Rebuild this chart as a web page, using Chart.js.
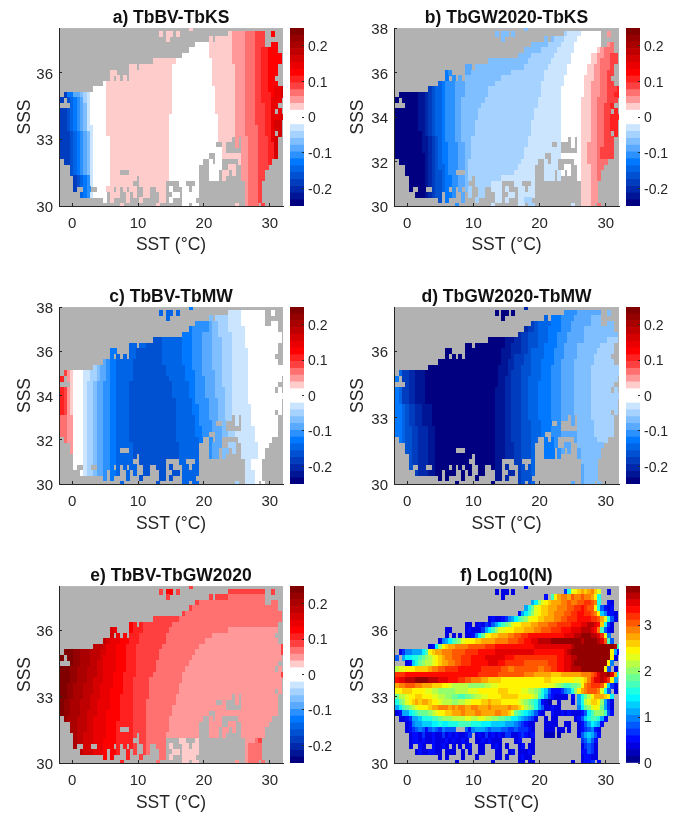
<!DOCTYPE html>
<html><head><meta charset="utf-8">
<style>html,body{margin:0;padding:0;background:#fff}canvas{position:absolute}</style>
<script src="https://cdn.jsdelivr.net/npm/chart.js@4"></script></head><body>
<script>
// Log10(N) per SSS row (38 down to 30, 0.25 step); "col:letters", col = (SST+2)*2, letter a..z = level
const logNRows = [
"40:d",
"31:c 33:cc 36:c 52:ekpqrsrstrp 65:c",
"33:c 46:d 48:lqsttsuttuttsqk",
"42:hjnpqrsssttuttuuvvutk 65:dc",
"40:hkmpqrrssstttuuvvwvuuqkf 64:dcd",
"38:dhjlnpqrrsstttuuvvwwvvutqig 65:ddc",
"29:cdccdeghjlmnpqqrrsssttuuvvvwwwwvvuspkfc",
"22:cc 25:cdce 29:dfhjlmnpqqrrrsstttuuuvvvvwwwxxyyxwrk 65:ec",
"16:cc 22:cdcc 26:c 27:ehjlnppqqqrrrsssttuuuvvvwwwxxxyyyxwtlfdc",
"16:c 18:c 20:c 22:cc 24:dgj 27:mpqrrsssttuuvvwwwwwwwwwwwxxxyyzzzyyxvpg",
"14:cghjlmnpqqqrrssssttttuuuvvwwxxyyyyzzzzzzzzzyzzzzyxulf",
"11:cdjnqrssttttuuuuuvvvwwwwwwwwwwwwxxxxxxxxxxxyzzzzzzzzzzzzyle",
"2:cegghhhjlqrsstttuuuuvvvvwwwwwxxxxxxxxxxxxwwwwwwwwwxyzzzzzzzzzzzzqhd",
"1:f 3:hjjkklmnopqrsttuuuvvvwwwwxxxxxxwwwvvvvvvvvvvvvvwwxxyyzzzzzzzzzzqg 67:c",
"4:cdikmnoopqrssttuuvvvwwwwwxxxwwvvvvvvuuuuuuuvvvwwxxyzzzzzzzzzzqg",
"1:oppqqqrrrrsttuuvvvvwwwwwwwvvvvvvuuttuuuuuuuttuuvvwwxxyyyzzzzzzzqf 67:c",
"1:vvvwwwwwwwwwwwwwwwwwwwwwwvvvvvvuuuuuuuutttsssssrrrsssssstttuvxyyzxsk",
"1:wxxyyyzzzzyyyxxxwwwvvuutttssrrrrqqqqqqqqqqqqqrrqqqqqqqppqrtvxxyxvqh",
"1:sttuuuttsssrrrqqpooooonnnnnooppqqqqqqqqqqqqqqqpponmllmmnqtuvvvuqi 66:ec",
"1:qqrrrqqqqppoonnnnnoooopppqqqqqqrrrqqqqppoonmkifdddeghknqstuuutpkf 67:c",
"1:moopqqrrqqqppoonnmmllmmnooppqqqqrrrrrqqqqpolkhedcccc 54:d 56:hkmoqsssrqj",
"1:kmnpqrsrssrqqpooonnooppqqqrrsrrrqqqqqponmlkhdcb 50:c 54:c 56:hkoprrqnhec",
"1:hjlmnopqqqrsstttststtssttssstssssstssrqonmkhfd 46:ccdcc 56:gjmnpqpmhec",
"1:cdhhjklmmmnopqqrrssstsssttssssttssrpmlkjihfdc 48:dccdcdcc 56:cdfjlnnnlfd",
"2:ccdehhikkkllmnnnooooppooppoonnmmlljjihgfec 46:c 48:cc 55:c 56:dfikllkhd",
"4:cdghhiiijjkjjkkkllllkkkjjjiiiihhhgfedcc 46:cccc 52:cc 56:cd 58:fhjihd",
"4:cdefgfdfgfegfff 22:fdghhhgfgggffeefeeedc 46:ccc 50:cc 53:c 56:c 57:defgdc",
"5:cddceccdccecdcdccde 25:cdcecdcdceeccdedcd 46:bbb 50:b 56:cfhihfd",
"5:cddcdccdcccdcdccdc 25:ccdcdccc 37:cd 42:c 57:efhfd",
"5:c 8:dc 12:dccdc 18:c 20:c 22:cd 26:cc 30:cdc 34:c 38:cd 41:cc 57:cefec",
"7:cdccddcc 16:ccc 21:c 23:c 26:cc 31:cc 35:cd 38:cc 40:cdc 57:ddfec",
"14:c 16:c 21:c 25:c 31:cc 34:c 38:cdcc 57:cddcd 61:c",
"19:c 30:c 38:cc 41:cc 54:c 57:cdde 62:d"
];
// Difference bands: [level, [startCol,rowCount, startCol,rowCount, ...]] read row by row from the top
const bandsA = [
[-9,[0,33]],[-8,[3,19,4,8,6,6]],[-7,[4,19,5,8,7,6]],[-6,[3,13,5,6,6,8,8,6]],[-5,[5,13,6,6,7,8,9,6]],
[-4,[5,13,7,6,8,8,10,6]],[-3,[7,13,8,6,9,8,10,6]],[-2,[8,14,9,5,10,8,11,6]],[-1,[9,14,9,5,10,8,10,6]],
[0,[10,18,11,15]],[1,[15,20,16,9,15,4]],[0,[41,4,40,1,38,1,36,1,35,9,34,17]],[1,[46,6,47,5,48,5,49,5,50,12]],
[2,[53,7,54,16,56,10]],[3,[57,20,58,13]],[4,[60,18,61,15]],[5,[63,4,62,10,63,6,64,13]],[6,[64,12,65,8,66,13]],
[7,[68,11,66,2,65,8,66,12]],[8,[68,17,66,8,68,8]]
];
const bandsB = [
[-12,[0,33]],[-11,[8,19,9,4,10,10]],[-10,[11,10,10,10,11,13]],[-9,[12,10,11,10,12,13]],[-8,[13,10,12,10,13,13]],
[-7,[14,10,13,10,14,6,15,7]],[-6,[16,8,15,17,16,8]],[-5,[18,8,17,2,16,11,17,6,18,6]],[-4,[19,21,20,12]],
[-3,[24,9,22,4,21,8,22,12]],[-2,[52,2,49,1,47,1,45,1,42,1,41,1,40,1,36,1,33,1,31,1,29,2,28,1,27,1,26,2,25,3,24,4,23,9]],
[-1,[53,2,52,1,51,1,50,1,49,1,48,1,47,1,46,2,45,3,44,2,43,2,42,3,41,2,40,2,39,1,38,1,37,1,33,1,30,6]],
[-2,[68,31,40,2]],[-1,[68,31,44,2]],
[0,[57,2,56,1,55,2,54,2,53,2,52,2,51,16,52,1,55,1,56,4]],[1,[65,4,62,1,60,2,59,2,58,4,57,20]],
[2,[65,4,63,1,62,2,61,3,60,11,59,4,60,8]],[3,[66,4,64,2,63,7,62,20]],[4,[68,5,66,3,65,6,64,8,63,2,68,9]],
[5,[68,12,67,1,68,1,66,5,67,1,68,1,67,1,68,11]]
];
const bandsC = [
[5,[0,33]],[3,[68,20,0,13]],[4,[2,20,68,13]],[2,[3,33]],[1,[4,20,5,13]],[0,[5,33]],
[-1,[8,33]],[-2,[10,14,9,19]],[-3,[12,14,11,19]],[-4,[13,14,12,19]],[-5,[15,14,14,19]],[-6,[16,33]],[-7,[18,33]],
[-8,[68,6,29,1,27,1,24,2,23,4,22,11,23,4,24,4]],[-7,[31,6,32,5,33,2,34,1,35,3,36,8,37,8]],
[-6,[40,4,38,7,39,3,40,3,41,3,42,4,43,9]],[-5,[41,12,42,6,43,4,44,4,45,7]],[-4,[46,5,44,8,45,4,46,4,47,12]],
[-3,[46,3,47,9,48,5,49,4,50,12]],[-2,[48,3,49,3,50,9,51,6,52,12]],[-1,[52,5,53,16,54,5,55,7]],
[0,[56,4,57,4,58,10,59,4,60,3,61,3,59,2,60,3]]
];
const bandsD = [
[-6,[0,33]],[-7,[2,18,3,15]],[-8,[3,18,4,15]],[-9,[3,18,5,4,6,11]],[-10,[5,18,7,4,8,11]],[-11,[7,18,9,4,11,11]],
[-12,[10,18,12,4,13,11]],[-11,[68,3,34,5,33,3,32,4,31,18]],[-10,[37,7,36,3,35,3,34,20]],[-9,[41,5,39,4,37,3,36,13,37,8]],
[-8,[43,5,41,4,40,2,39,22]],[-7,[46,3,44,5,42,5,41,8,42,12]],[-6,[48,4,47,3,46,3,45,4,44,7,45,12]],
[-5,[52,2,51,3,50,3,49,3,48,13,49,9]],[-4,[56,2,55,1,54,2,53,2,52,3,51,23]],
[-3,[63,2,60,2,58,3,56,3,55,10,56,6,57,3,58,4]],[-2,[68,6,65,1,63,1,62,1,61,2,60,10,61,3,62,1,64,1,68,7]]
];
const bandsE = [
[12,[0,33]],[11,[6,12,5,3,4,3,3,3,2,3,1,9]],[10,[8,12,7,3,6,3,5,3,4,3,3,9]],[9,[11,12,10,3,9,3,8,3,7,3,6,9]],
[8,[15,11,14,1,13,2,12,3,11,3,10,3,9,4,8,6]],[7,[17,10,16,1,15,2,14,5,13,3,12,3,11,9]],
[6,[19,11,18,5,17,3,16,4,15,5,14,5]],[5,[23,9,22,2,21,5,20,4,19,5,18,8]],[4,[28,6,27,1,26,2,25,2,24,6,23,16]],
[6,[32,2,68,31]],[4,[35,2,68,31]],
[3,[68,2,52,1,43,1,41,1,39,1,37,1,35,1,34,1,33,2,32,1,31,2,30,2,29,1,28,4,27,12]],
[2,[68,8,52,1,47,1,45,1,43,1,42,1,41,1,40,1,39,1,38,2,37,2,36,2,35,2,34,3,33,6]],
[1,[68,28,33,5]],[2,[68,28,45,5]],[3,[68,28,60,1,58,4]],[4,[68,28,61,1,62,1,68,3]]
];
const divergingColors = ["#000080","#001496","#0028aa","#003cbe","#0050d2","#0064e6","#0078ff","#2b91ff","#59aaff","#80bfff","#a6d2ff","#cce5ff","#ffffff",
"#ffcccc","#ff9999","#ff7070","#ff4040","#ff2020","#ff0000","#ea0000","#d50000","#bf0000","#aa0000","#950000","#800000"];
const divTicks = [-0.2,-0.1,0,0.1,0.2];
const logTicks = [0,1,2,3];
const panelLayout = [
 {title:"a) TbBV-TbKS",bands:bandsA,col:0,row:0,yt:[30,33,36],xl:"SST (°C)"},
 {title:"b) TbGW2020-TbKS",bands:bandsB,col:1,row:0,yt:[30,32,34,36,38],xl:"SST (°C)"},
 {title:"c) TbBV-TbMW",bands:bandsC,col:0,row:1,yt:[30,32,34,36,38],xl:"SST (°C)"},
 {title:"d) TbGW2020-TbMW",bands:bandsD,col:1,row:1,yt:[30,33,36],xl:"SST (°C)"},
 {title:"e) TbBV-TbGW2020",bands:bandsE,col:0,row:2,yt:[30,33,36],xl:"SST (°C)"},
 {title:"f) Log10(N)",bands:null,col:1,row:2,yt:[30,33,36],xl:"SST(°C)"}
];
const ink="#262626", grey="#b2b2b2", FONT="'Liberation Sans', Arial, sans-serif";
const logStep=3.85/26;
function jet(t){const f=(a)=>Math.round(255*Math.max(0,Math.min(1,1.5-Math.abs(4*t-a))));return `rgb(${f(3)},${f(2)},${f(1)})`;}
const logColor=i=>jet((i+0.5)*logStep/3.85);
const divColor=l=>divergingColors[l+12];

const masks=logNRows.map(s=>{const a=new Array(69).fill(null);s.split(' ').forEach(t=>{const[c,l]=t.split(':');[...l].forEach((ch,i)=>{const k=+c+i;if(k<69)a[k]=ch.charCodeAt(0)-97;});});return a;});
function expand(runs){const o=[];for(let i=0;i<runs.length;i+=2)for(let n=0;n<runs[i+1];n++)o.push(runs[i]);return o;}

const tiles={};
function tile(color){if(tiles[color])return tiles[color];const c=document.createElement('canvas');c.width=4;c.height=6;const g=c.getContext('2d');g.fillStyle=color;g.fillRect(0,0,4,6);return tiles[color]=c;}
function cellPoints(p){
  const pts=[];const bs=p.bands&&p.bands.map(b=>[b[0],expand(b[1])]);
  masks.forEach((row,r)=>row.forEach((m,k)=>{if(m===null)return;
    let c;if(bs){let lv=0;for(const b of bs){if(b[1][r]<=k)lv=b[0];}c=divColor(lv);}else c=logColor(m);
    pts.push({x:-2+k*0.5,y:38-r*0.25,c});}));
  return pts;
}
const greyBack={id:'greyBack',beforeDatasetsDraw(ch){const a=ch.chartArea;ch.ctx.save();ch.ctx.fillStyle=grey;ch.ctx.fillRect(a.left,a.top,a.right-a.left,a.bottom-a.top);ch.ctx.restore();}};
const colX=[{left:0,w:342,lead:59,cbLeft:290},{left:345,w:323,lead:49,cbLeft:626}];
const rowY=[{top:0,at:28,ab:206},{top:279,at:28,ab:205},{top:558,at:28,ab:205}];
function addCanvas(l,t,w,h){const c=document.createElement('canvas');c.style.left=l+'px';c.style.top=t+'px';c.style.width=w+'px';c.style.height=h+'px';c.width=w;c.height=h;document.body.appendChild(c);return c;}
const H=256;
panelLayout.forEach(p=>{
  const C=colX[p.col],R=rowY[p.row];
  new Chart(addCanvas(C.left,R.top,C.w,H),{type:'scatter',plugins:[greyBack],
    data:{datasets:[{data:cellPoints(p),clip:0,pointRadius:2,pointBorderWidth:0,pointStyle:c=>tile(c.raw.c)}]},
    options:{responsive:false,animation:false,events:[],
      layout:{padding:0},
      plugins:{legend:{display:false},tooltip:{enabled:false},
        title:{display:true,text:p.title,color:'#111',font:{family:FONT,size:17.5,weight:'bold',lineHeight:1.09},padding:{top:9,bottom:0}}},
      scales:{
        x:{type:'linear',min:-2,max:32,afterBuildTicks:s=>{s.ticks=[0,10,20,30].map(v=>({value:v}));},
          afterFit:s=>{s.height=H-R.ab;},
          grid:{drawOnChartArea:false,tickLength:-3,color:ink,z:1},border:{color:ink,z:1},
          ticks:{color:ink,font:{family:FONT,size:15},padding:12,maxRotation:0,callback:v=>String(v)},
          title:{display:true,text:p.xl,color:ink,font:{family:FONT,size:17.5,lineHeight:1.2},padding:{top:0,bottom:0.5}}},
        y:{type:'linear',min:30,max:38,afterBuildTicks:s=>{s.ticks=p.yt.map(v=>({value:v}));},
          afterFit:s=>{s.width=C.lead;},
          grid:{drawOnChartArea:false,tickLength:-3,color:ink,z:1},border:{color:ink,z:1},
          ticks:{color:ink,font:{family:FONT,size:15,lineHeight:0.27},padding:9,callback:v=>['',String(v)]},
          title:{display:true,text:'SSS',color:ink,font:{family:FONT,size:17.5,lineHeight:1.2},padding:{top:p.col?3:15,bottom:0}}},
        yRight:{type:'linear',position:'right',min:30,max:38,afterFit:s=>{s.width=C.lead;},
          grid:{display:false},border:{display:false},ticks:{display:false}}
      }}});
  // colour bar
  const isLog=!p.bands, W=52;
  const sets=[];
  if(isLog){for(let i=0;i<26;i++)sets.push({data:[logStep],backgroundColor:logColor(i),stack:'s',borderWidth:0});}
  else{
    for(let l=-1;l>=-12;l--)sets.push({data:[-0.5/26],backgroundColor:divColor(l),stack:'s',borderWidth:0});
    sets.unshift({data:[-0.5/26],backgroundColor:divColor(0),stack:'s',borderWidth:0});
    sets.push({data:[0.5/26],backgroundColor:divColor(0),stack:'s',borderWidth:0});
    for(let l=1;l<=12;l++)sets.push({data:[0.5/26],backgroundColor:divColor(l),stack:'s',borderWidth:0});
  }
  const ticksV=isLog?logTicks:divTicks;
  new Chart(addCanvas(C.cbLeft,R.top,14+W,H),{type:'bar',
    data:{labels:['c'],datasets:sets},
    options:{responsive:false,animation:false,events:[],
      layout:{padding:{top:R.at,bottom:H-R.ab,left:0,right:0}},
      plugins:{legend:{display:false},tooltip:{enabled:false},title:{display:false}},
      scales:{
        x:{display:false,stacked:true},
        y:{type:'linear',position:'right',stacked:true,min:isLog?0:-0.25,max:isLog?3.85:0.25,
          afterBuildTicks:s=>{s.ticks=ticksV.map(v=>({value:v}));},afterFit:s=>{s.width=W;},
          grid:{drawOnChartArea:false,tickLength:-2,color:ink,z:1},border:{display:false},
          ticks:{color:ink,font:{family:FONT,size:14,lineHeight:0.21},padding:6,callback:v=>['',String(v)]}}
      },
      datasets:{bar:{barPercentage:1,categoryPercentage:1}}
    }});
});
</script></body></html>
